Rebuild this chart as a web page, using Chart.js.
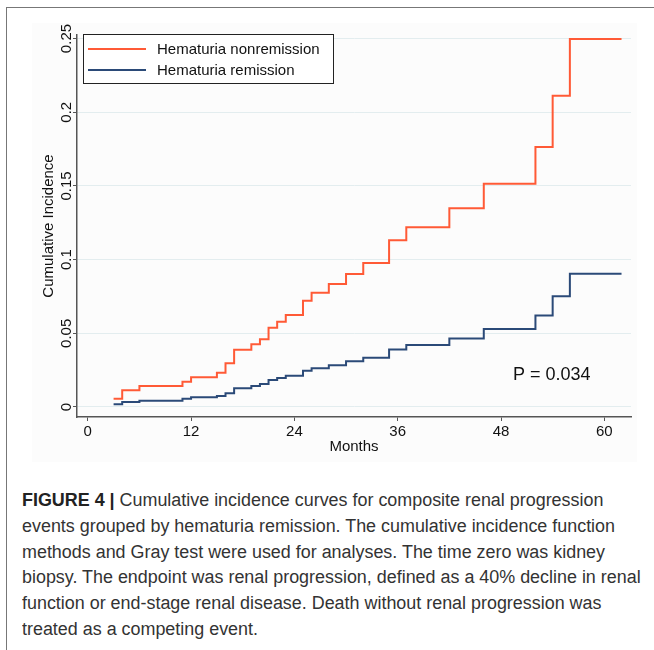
<!DOCTYPE html>
<html>
<head>
<meta charset="utf-8">
<script src="https://cdn.jsdelivr.net/npm/chart.js@4.4.0/dist/chart.umd.min.js"></script>
<style>
  body { margin: 0; width: 654px; height: 650px; background: #fff; position: relative; overflow: hidden;
         font-family: "Liberation Sans", Arial, sans-serif; }
  #frame { position: absolute; left: 6px; top: 7px; width: 700px; height: 700px;
           border-top: 1.5px solid #777; border-left: 1.5px solid #777; }
  #plot { position: absolute; left: 32px; top: 23px; width: 605px; height: 439px; background: #fcfcfc; }
  #caption { position: absolute; left: 22px; top: 488px; font-size: 18px; line-height: 25.8px;
             color: #333; white-space: nowrap; transform-origin: 0 0; transform: scaleX(0.995); }
  #caption b { color: #222; }
</style>
</head>
<body>
<div id="frame"></div>
<div id="plot"><canvas id="cif"></canvas></div>
<div id="caption">
  <div><b>FIGURE 4 |</b> Cumulative incidence curves for composite renal progression</div>
  <div>events grouped by hematuria remission. The cumulative incidence function</div>
  <div>methods and Gray test were used for analyses. The time zero was kidney</div>
  <div>biopsy. The endpoint was renal progression, defined as a 40% decline in renal</div>
  <div>function or end-stage renal disease. Death without renal progression was</div>
  <div>treated as a competing event.</div>
</div>
<script>
// tiempos (meses) en que cambia la incidencia acumulada
const months = [3, 4, 6, 11, 12, 15, 16, 17, 19, 20, 21, 22, 23, 25, 26, 28, 30, 32, 35, 37, 42, 46, 52, 54, 56, 62];
const nonremission = [0.0056, 0.0113, 0.0142, 0.0172, 0.0201, 0.0233, 0.0296, 0.0389, 0.0425, 0.0459, 0.0538, 0.0579, 0.0624,
  0.0721, 0.0775, 0.0835, 0.0903, 0.0977, 0.1131, 0.1219, 0.1348, 0.1515, 0.1764, 0.2112, 0.2497, 0.2497];
const remission = [0.0018, 0.0034, 0.0043, 0.0056, 0.0066, 0.0075, 0.0093, 0.0127, 0.0142, 0.0156, 0.0183, 0.0197, 0.0212,
  0.0246, 0.0262, 0.0283, 0.0310, 0.0334, 0.0390, 0.0420, 0.0464, 0.0529, 0.0620, 0.0751, 0.0904, 0.0904];
const xTicks = [0, 12, 24, 36, 48, 60];
const yTicks = [0, 0.05, 0.1, 0.15, 0.2, 0.25];
const yTickLabels = ['0', '0.05', '0.1', '0.15', '0.2', '0.25'];
const pValueText = 'P = 0.034';

const ORANGE = '#ff5a36';
const NAVY = '#2b4a78';
const FONT = '"Liberation Sans", Arial, sans-serif';

// Leyenda con recuadro al estilo Stata
const boxLegend = {
  id: 'boxLegend',
  afterDraw(chart) {
    const ctx = chart.ctx, a = chart.chartArea;
    const x0 = a.left + 6, y0 = a.top - 1, w = 250, h = 49;
    ctx.save();
    ctx.fillStyle = '#fff';
    ctx.fillRect(x0, y0, w, h);
    ctx.strokeStyle = '#222';
    ctx.lineWidth = 1;
    ctx.strokeRect(x0 + 0.5, y0 + 0.5, w, h);
    ctx.font = '15px ' + FONT;
    ctx.textBaseline = 'middle';
    chart.data.datasets.forEach((ds, i) => {
      const y = y0 + 15 + i * 21;
      ctx.strokeStyle = ds.borderColor;
      ctx.lineWidth = 2;
      ctx.beginPath();
      ctx.moveTo(x0 + 5, y);
      ctx.lineTo(x0 + 63, y);
      ctx.stroke();
      ctx.fillStyle = '#111';
      ctx.fillText(ds.label, x0 + 74, y + 1);
    });
    // valor p del test de Gray
    const xs = chart.scales.x, ys = chart.scales.y;
    ctx.font = '18px ' + FONT;
    ctx.fillStyle = '#111';
    ctx.textAlign = 'left';
    ctx.fillText(pValueText, xs.getPixelForValue(49.4), ys.getPixelForValue(0.0217));
    ctx.restore();
  }
};

const toPoints = vals => months.map((m, i) => ({ x: m, y: vals[i] }));

new Chart(document.getElementById('cif'), {
  type: 'line',
  data: {
    datasets: [
      { label: 'Hematuria nonremission', data: toPoints(nonremission), borderColor: ORANGE,
        borderWidth: 2, stepped: true, pointRadius: 0, fill: false },
      { label: 'Hematuria remission', data: toPoints(remission), borderColor: NAVY,
        borderWidth: 2, stepped: true, pointRadius: 0, fill: false }
    ]
  },
  options: {
    responsive: true,
    maintainAspectRatio: false,
    animation: false,
    layout: { padding: { top: 12, right: 6, left: 0, bottom: 0 } },
    plugins: { legend: { display: false }, tooltip: { enabled: false } },
    scales: {
      x: {
        type: 'linear', min: -1.25, max: 63.1,
        afterBuildTicks: s => { s.ticks = xTicks.map(v => ({ value: v })); },
        afterFit: s => { s.height = 45; },
        border: { color: '#555', width: 1.5 },
        grid: { drawOnChartArea: false, drawTicks: true, tickLength: 4, tickColor: '#555' },
        ticks: { color: '#111', font: { family: FONT, size: 15 }, padding: 2, maxRotation: 0 },
        title: { display: true, text: 'Months', color: '#111', font: { family: FONT, size: 15 },
                 padding: { top: 0, bottom: 6 } }
      },
      y: {
        type: 'linear', min: -0.0068, max: 0.2524,
        afterBuildTicks: s => { s.ticks = yTicks.map(v => ({ value: v })); },
        afterFit: s => { s.width = 45; },
        border: { color: '#555', width: 1.5 },
        grid: { color: '#e3edef', lineWidth: 1, drawTicks: true, tickLength: 4, tickColor: '#555' },
        ticks: { color: '#111', font: { family: FONT, size: 15 }, minRotation: 90, maxRotation: 90,
                 crossAlign: 'center', padding: -8,
                 callback: (v, i) => yTickLabels[i] },
        title: { display: true, text: 'Cumulative Incidence', color: '#111', font: { family: FONT, size: 15 },
                 padding: { top: 8, bottom: 0 } }
      }
    }
  },
  plugins: [boxLegend]
});
</script>
</body>
</html>
